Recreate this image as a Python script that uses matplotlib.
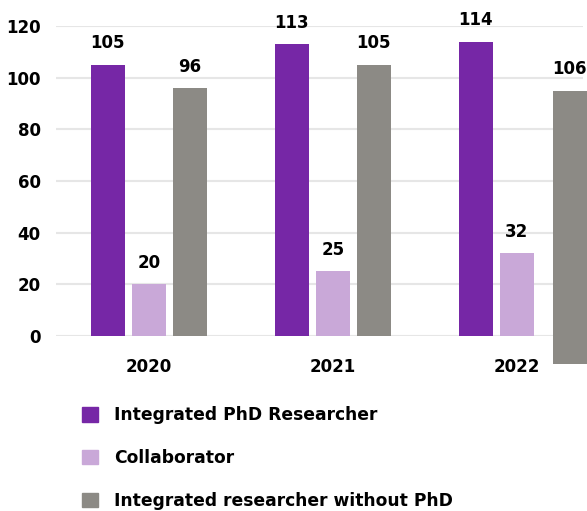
import matplotlib.pyplot as plt
from matplotlib.patches import Patch
import numpy as np

years = ["2020", "2021", "2022"]
phd = [105, 113, 114]
collab = [20, 25, 32]
no_phd = [96, 105, 106]
# last grey bar is drawn shifted/lowered in the source picture
no_phd_bottom = [0, 0, -11]
no_phd_shift = [0, 0, 0.065]

labels = ["Integrated PhD Researcher", "Collaborator", "Integrated researcher without PhD"]
colors = ["#7627a6", "#c9a8d8", "#8c8a85"]

plt.rcParams['font.family'] = ['DejaVu Sans']
plt.rcParams['font.weight'] = 'bold'

fig = plt.figure(figsize=(5.87, 5.11), dpi=100)
ax = fig.add_axes([56 / 587, 175 / 511, 527 / 587, 310 / 511])

x = np.arange(len(years))
step = 0.223
width = 0.185

series = [(phd, [0, 0, 0], [0, 0, 0]),
          (collab, [0, 0, 0], [0, 0, 0]),
          (no_phd, no_phd_bottom, no_phd_shift)]

for i, (vals, bottoms, shifts) in enumerate(series):
    pos = x + (i - 1) * step + np.array(shifts)
    bars = ax.bar(pos, vals, width, bottom=bottoms, color=colors[i],
                  clip_on=False, zorder=3)
    for b, v, bt in zip(bars, vals, bottoms):
        ax.annotate(str(v), (b.get_x() + b.get_width() / 2, v + bt),
                    textcoords="offset points", xytext=(0, 9),
                    ha='center', va='bottom', fontsize=12,
                    fontweight='bold', annotation_clip=False)

ax.set_xlim(-0.505, 2.36)
ax.set_ylim(0, 120)
ax.set_yticks(range(0, 121, 20))
ax.set_xticks(x)
ax.set_xticklabels(years)
ax.tick_params(axis='both', length=0, labelsize=12)
ax.tick_params(axis='x', pad=16)
ax.tick_params(axis='y', pad=11)
ax.grid(axis='y', color='#e6e6e6', linewidth=1.5, zorder=0)
for s in ax.spines.values():
    s.set_visible(False)

handles = [Patch(color=c) for c in colors]
fig.legend(handles, labels, loc='upper left', bbox_to_anchor=(67 / 587, 1 - 391 / 511),
           frameon=False, handlelength=0.9, handleheight=0.9,
           handletextpad=0.95, labelspacing=1.45, prop={'weight': 'bold', 'size': 12.3})

plt.savefig("out.png", dpi=100)
plt.close()
